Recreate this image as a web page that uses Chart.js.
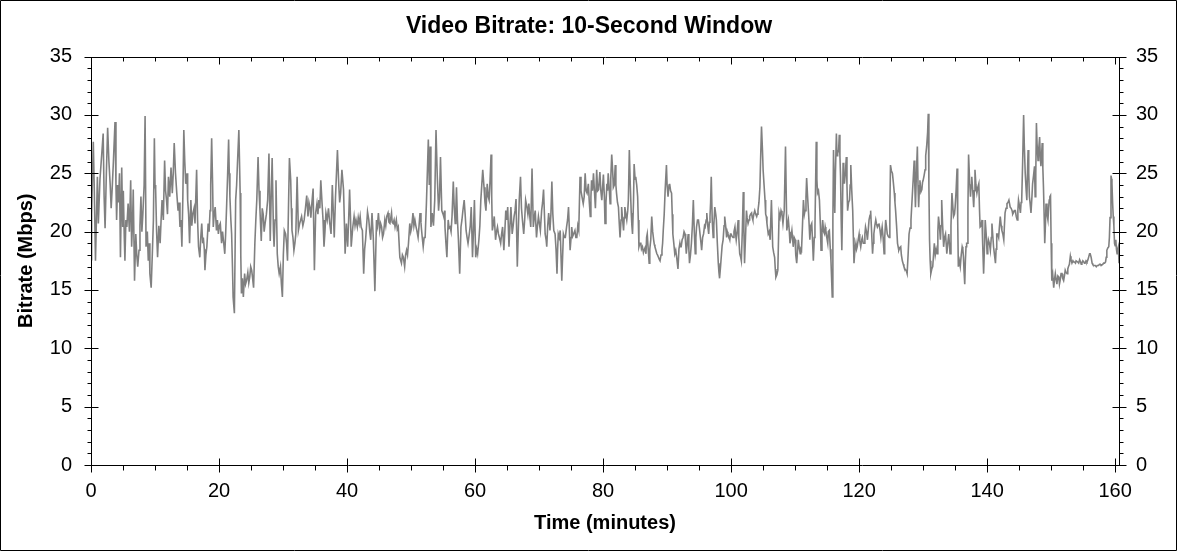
<!DOCTYPE html>
<html>
<head>
<meta charset="utf-8">
<title>Video Bitrate: 10-Second Window</title>
<script src="https://cdn.jsdelivr.net/npm/chart.js@4/dist/chart.umd.min.js"></script>
<style>
  html, body { margin: 0; padding: 0; background: #fff; }
  canvas { display: block; }
</style>
</head>
<body>
<canvas id="bitrateChart" width="1178" height="552"></canvas>
<script>
// values
const chartTitle = "Video Bitrate: 10-Second Window";
const xAxisLabel = "Time (minutes)";
const yAxisLabel = "Bitrate (Mbps)";
const xTicks = [0, 20, 40, 60, 80, 100, 120, 140, 160];
const yTicks = [0, 5, 10, 15, 20, 25, 30, 35];

// [minute, Mbps]
const trace = [
  [0.0,17.6],[0.1,21.5],[0.36,27.7],[0.5,24],[0.7,17.5],[1.0,24.7],[1.15,20.7],[1.4,24.5],[1.7,26.8],[1.9,28.4],
  [2.05,23],[2.2,20.3],[2.4,25],[2.6,28.9],[2.8,26],[3.0,24],[3.15,22],[3.3,23.6],[3.5,26],[3.75,29.4],
  [3.9,24],[4.0,21.0],[4.15,24],[4.3,22.5],[4.45,25],[4.6,17.8],[4.8,25.5],[4.95,20.4],[5.05,23.5],[5.2,19.5],
  [5.3,17.5],[5.45,21],[5.6,20.4],[5.8,22.4],[6.0,20],[6.2,24.4],[6.35,18.7],[6.5,21],[6.6,23.6],[6.8,15.8],
  [7.0,19.8],[7.15,18],[7.3,17.0],[7.5,18.4],[7.65,20.5],[7.8,23.0],[7.95,20],[8.1,21.5],[8.3,24],[8.45,29.9],
  [8.6,18.7],[8.8,20],[8.95,17.5],[9.1,19],[9.2,16.4],[9.4,15.2],[9.6,18.4],[9.75,21],[9.9,28.0],[10.0,24],
  [10.1,23.6],[10.25,20],[10.4,17.8],[10.6,20.5],[10.8,19.0],[10.95,21],[11.1,22.7],[11.3,21],[11.5,26.1],[11.65,23.5],
  [11.8,22.7],[11.95,21.5],[12.1,24.7],[12.3,23],[12.5,25.5],[12.7,23.3],[12.85,25],[13.0,27.6],[13.2,25.0],[13.4,23.3],
  [13.6,21.8],[13.75,22.5],[13.9,20.4],[14.05,21],[14.2,18.7],[14.35,23],[14.5,28.7],[14.65,26],[14.8,24.1],[15.0,25],
  [15.1,22.7],[15.25,21.5],[15.4,19.0],[15.6,22.7],[15.75,20.5],[15.9,21.5],[16.1,22],[16.25,20.7],[16.5,25.3],[16.65,21],
  [16.8,18.7],[17.0,17.8],[17.15,19.5],[17.3,20.7],[17.45,19],[17.55,19.5],[17.7,18.5],[17.8,16.7],[17.95,18],[18.1,18.7],
  [18.3,20.7],[18.45,20],[18.6,21.8],[18.7,24],[18.85,28.0],[19.0,24],[19.1,20.4],[19.25,21.5],[19.4,22.1],[19.6,20.1],
  [19.75,21],[19.9,19.8],[20.05,20.5],[20.2,20.7],[20.4,19.0],[20.55,20],[20.7,19.2],[20.9,18.1],[21.05,20],[21.2,22.4],
  [21.35,25],[21.5,27.9],[21.6,25],[21.7,23.0],[21.85,21],[21.97,19.8],[22.1,17],[22.2,14.4],[22.4,13.0],[22.6,22.7],
  [22.75,24],[22.9,26.1],[23.1,28.7],[23.2,26],[23.3,23.3],[23.4,18],[23.5,14.7],[23.65,16],[23.8,14.4],[24.0,16.4],
  [24.15,15.5],[24.3,15.8],[24.5,16.5],[24.65,15.6],[24.8,16.1],[24.95,17],[25.1,16.7],[25.25,16],[25.4,15.2],[25.6,19.0],
  [25.75,21],[25.9,22.7],[26.1,26.4],[26.25,23.5],[26.4,21.8],[26.6,19.2],[26.75,22],[26.9,21.5],[27.05,20],[27.2,20.7],
  [27.4,21.5],[27.6,22.7],[27.8,26.7],[28.0,19.2],[28.15,23],[28.3,26.3],[28.5,20.1],[28.6,18.7],[28.75,21],[28.9,24.4],
  [29.1,18.1],[29.25,17],[29.4,16.4],[29.6,17.0],[29.75,15.5],[29.9,14.4],[30.05,18],[30.2,20.1],[30.4,19.8],[30.55,19],
  [30.7,17.5],[30.85,22],[31.0,26.3],[31.2,24.4],[31.3,22],[31.4,20.1],[31.55,19.5],[31.7,18.4],[31.85,19],[32.0,19.8],
  [32.2,24.7],[32.4,20.1],[32.6,20.7],[32.75,21],[32.9,21.3],[33.1,20.5],[33.3,21.0],[33.5,22],[33.7,23.1],[33.9,21.3],
  [34.05,22.5],[34.2,22.1],[34.35,21.2],[34.5,22.4],[34.7,23.7],[34.9,16.7],[35.1,21.6],[35.3,22.4],[35.45,21.5],[35.6,22.7],
  [35.75,22],[35.9,24.4],[36.1,22.4],[36.25,21],[36.4,18.7],[36.55,20],[36.7,21.6],[36.9,21.0],[37.1,22],[37.3,20.7],
  [37.5,19.8],[37.7,24.0],[38.0,19.5],[38.2,23.0],[38.35,25],[38.5,27.0],[38.7,24.1],[38.85,22.5],[39.0,23.3],[39.2,25.3],
  [39.45,23.6],[39.6,20.5],[39.7,18.1],[39.9,20.7],[40.1,18.7],[40.25,21],[40.4,23.6],[40.55,21],[40.65,18.7],[40.9,20.4],
  [41.1,21.3],[41.25,20.5],[41.4,21.0],[41.6,20.4],[41.75,21.2],[41.9,20.7],[42.05,21.3],[42.2,20.4],[42.4,20.1],[42.6,16.4],
  [42.75,18.5],[42.9,19.3],[43.05,20.5],[43.2,21.7],[43.4,21.0],[43.55,20],[43.7,19.3],[43.9,21.6],[44.1,19.5],[44.35,14.9],
  [44.6,21.0],[44.75,20.5],[44.9,21.6],[45.1,20.1],[45.25,20.7],[45.4,20.4],[45.55,19.5],[45.7,19.8],[45.9,21.0],[46.05,20.5],
  [46.2,21.3],[46.4,21.6],[46.55,20.8],[46.7,20.7],[46.95,21.6],[47.05,20.8],[47.2,20.7],[47.35,21],[47.5,20.4],[47.7,21.0],
  [47.85,20.2],[48.0,20.4],[48.25,17.8],[48.5,17.3],[48.65,18],[48.8,17.8],[49.0,17.0],[49.15,18],[49.3,18.4],[49.45,18],
  [49.6,19.0],[49.8,20.7],[49.95,20],[50.1,20.4],[50.3,21.6],[50.45,20.5],[50.6,21.0],[50.75,20.5],[50.9,20.1],[51.1,19.5],
  [51.25,20.5],[51.4,21.6],[51.55,20.8],[51.6,20.4],[51.75,19.5],[51.9,18.7],[52.05,19.5],[52.2,19.5],[52.4,22.4],[52.7,27.9],
  [52.85,24],[53.0,27.3],[53.1,20.4],[53.3,21.6],[53.5,20.5],[53.7,22.7],[53.9,28.7],[54.1,24.7],[54.3,21.8],[54.45,23],
  [54.6,26.4],[54.8,21.8],[55.0,21.5],[55.1,21.3],[55.25,21.8],[55.3,20.4],[55.45,19],[55.6,17.8],[55.7,19.5],[55.8,21.0],
  [55.95,20.3],[56.1,20.4],[56.25,20],[56.4,21.3],[56.6,24.3],[56.75,22],[56.9,20.7],[57.0,22],[57.1,23.8],[57.25,21],
  [57.4,19.3],[57.6,16.4],[57.8,20.4],[57.95,21],[58.1,21.8],[58.3,22.7],[58.45,21.5],[58.6,20.1],[58.75,19.5],[58.9,19.0],
  [59.1,19.8],[59.25,20.5],[59.4,22.1],[59.6,17.8],[59.75,20],[59.9,22.7],[60.1,17.8],[60.25,18.5],[60.4,18.1],[60.6,19.3],
  [60.75,20.5],[60.9,22.7],[61.05,24],[61.2,25.3],[61.4,23.8],[61.55,22.5],[61.7,21.8],[61.9,24.1],[62.05,23],[62.2,22.7],
  [62.35,24.5],[62.5,26.6],[62.6,23],[62.7,20.1],[62.85,20.6],[63.0,21.3],[63.2,19.3],[63.35,20],[63.5,20.4],[63.65,19.8],
  [63.8,19.5],[64.0,19.0],[64.15,19.8],[64.3,20.4],[64.5,18.4],[64.65,20],[64.8,21.8],[64.95,21],[65.1,22.1],[65.3,18.7],
  [65.45,20.5],[65.6,22.1],[65.8,19.8],[65.95,20.5],[66.1,21.3],[66.25,21.8],[66.4,22.8],[66.6,17.0],[66.75,20],[66.9,22.7],
  [67.1,24.7],[67.25,22],[67.4,21.0],[67.6,19.8],[67.75,21],[67.9,22.7],[68.1,22.1],[68.25,21.5],[68.4,22.4],[68.55,21.3],
  [68.7,20.4],[68.9,25.4],[69.1,20.4],[69.25,21.2],[69.4,21.8],[69.6,19.5],[69.75,20.5],[69.9,21.3],[70.05,20.7],[70.2,20.1],
  [70.4,21.8],[70.55,22.5],[70.7,23.6],[70.95,19.8],[71.1,19.3],[71.2,18.7],[71.35,20.5],[71.5,21.6],[71.7,20.1],[71.85,21.5],
  [72.0,24.3],[72.15,21.5],[72.3,20.1],[72.5,19.8],[72.65,18.5],[72.8,16.4],[72.9,18.5],[73.0,19.8],[73.15,19.5],[73.3,20.1],
  [73.55,15.8],[73.8,19.8],[73.95,19.5],[74.1,19.5],[74.3,20.4],[74.45,21],[74.6,22.1],[74.85,18.4],[75.0,19.5],[75.1,20.4],
  [75.25,19.6],[75.4,19.8],[75.6,20.1],[75.75,19.5],[75.9,19.5],[76.05,20.5],[76.2,20.1],[76.4,24.7],[76.55,23.5],[76.7,23.0],
  [76.9,22.4],[77.05,23],[77.2,25.0],[77.35,23.5],[77.5,23.3],[77.7,24.1],[77.85,22.5],[78.0,21.3],[78.1,23],[78.2,24.4],
  [78.35,23.5],[78.5,25.0],[78.65,23.5],[78.8,22.0],[79.0,25.3],[79.15,23.5],[79.3,23.6],[79.5,25.1],[79.65,23.5],[79.8,22.7],
  [79.95,24],[80.05,24.9],[80.2,23],[80.3,20.7],[80.45,22.5],[80.6,24.1],[80.7,23.5],[80.8,25.0],[80.95,23.8],[81.1,22.4],
  [81.2,24.5],[81.35,26.6],[81.5,25.2],[81.6,23.8],[81.75,24],[81.9,25.7],[82.0,24],[82.1,23.3],[82.25,22.5],[82.4,22.1],
  [82.5,21],[82.65,19.5],[82.8,21],[82.9,22.1],[83.05,21],[83.2,20.1],[83.3,21.2],[83.4,22.1],[83.55,21.5],[83.7,21.0],
  [83.85,21.8],[83.95,22.7],[84.1,27.0],[84.25,24],[84.4,21.6],[84.5,20.5],[84.6,19.8],[84.75,22.5],[84.85,25.8],[85.0,24.5],
  [85.1,24.7],[85.25,24],[85.4,23.0],[85.5,21],[85.6,18.7],[85.75,19],[85.9,19.0],[86.0,18.5],[86.15,18.7],[86.3,18.2],
  [86.4,18.4],[86.55,18.6],[86.7,18.1],[86.8,19.5],[86.9,19.8],[87.05,18.5],[87.2,17.3],[87.3,18.5],[87.45,19.3],[87.6,21.3],
  [87.75,20],[87.9,19.3],[88.0,18.9],[88.1,18.7],[88.25,18.4],[88.4,18.1],[88.5,18],[88.65,17.8],[88.8,17.6],[88.9,17.5],
  [89.05,18],[89.2,18.4],[89.3,19],[89.4,20.1],[89.55,21.5],[89.7,23.6],[89.9,25.7],[90.0,24],[90.15,23.0],[90.3,24],
  [90.4,24.1],[90.55,23.5],[90.7,23.3],[90.8,21.5],[90.9,19.8],[91.05,19],[91.2,18.1],[91.35,18.4],[91.5,17.8],[91.6,17.3],
  [91.7,16.8],[91.85,18.5],[92.0,19.0],[92.1,18.7],[92.2,18.7],[92.35,19.3],[92.5,19.5],[92.65,20],[92.8,19.8],[92.9,19],
  [93.0,18.1],[93.15,19],[93.3,19.8],[93.4,18.5],[93.5,17.3],[93.65,18],[93.8,19.0],[93.95,20.5],[94.1,22.7],[94.25,20],
  [94.4,18.1],[94.5,19.5],[94.6,20.4],[94.75,21],[94.9,21.0],[95.05,20.3],[95.2,19.5],[95.3,19],[95.4,18.4],[95.55,19.5],
  [95.7,19.8],[95.85,20.5],[95.95,20.4],[96.1,21],[96.2,21.6],[96.35,20.5],[96.5,19.8],[96.6,20.8],[96.7,21.3],[96.8,22.5],
  [96.9,24.7],[97.05,21],[97.2,19.5],[97.3,20.5],[97.45,22.1],[97.6,21.5],[97.7,21.0],[97.85,19],[98.0,17.3],[98.1,16.5],
  [98.2,16.0],[98.35,17],[98.5,18.1],[98.6,18.8],[98.75,19.3],[98.9,20.5],[99.0,21.3],[99.15,20.5],[99.3,19.5],[99.4,20],
  [99.5,19.8],[99.65,19.6],[99.8,19.3],[99.9,19.8],[100.0,19.8],[100.15,19.6],[100.3,19.5],[100.45,20],[100.6,20.4],[100.7,19.8],
  [100.8,19.3],[100.95,20],[101.1,21.0],[101.2,19.5],[101.35,18.1],[101.5,17.8],[101.6,17.5],[101.75,20],[101.9,23.4],[102.0,20],
  [102.1,17.3],[102.25,19.5],[102.4,21.8],[102.5,21.2],[102.65,20.7],[102.8,21],[102.9,21.3],[103.05,21.5],[103.2,21.6],[103.3,21.2],
  [103.4,21.0],[103.55,21.5],[103.7,21.8],[103.85,21.5],[104.0,21.3],[104.1,21.5],[104.2,21.8],[104.35,22.5],[104.5,23.8],[104.6,26],
  [104.75,29.0],[104.9,27],[105.0,25.3],[105.15,24],[105.3,22.7],[105.4,21.5],[105.5,21.3],[105.6,20.7],[105.8,19.8],[105.95,20],
  [106.1,19.3],[106.3,22.7],[106.5,18.7],[106.65,18.2],[106.8,17.8],[106.9,16.8],[107.0,16.1],[107.15,16.3],[107.3,16.7],[107.5,21.6],
  [107.65,21.2],[107.8,21.8],[107.95,21.5],[108.1,20.7],[108.3,21.8],[108.5,27.3],[108.7,20.1],[108.8,20.5],[108.95,21.0],[109.1,20],
  [109.2,19.0],[109.35,19.5],[109.5,20.1],[109.6,19.5],[109.7,18.7],[109.85,19.5],[110.0,19.3],[110.1,18],[110.25,17.3],[110.4,18.5],
  [110.5,19.3],[110.65,18.6],[110.8,18.1],[110.9,18.5],[111.0,18.4],[111.15,20.5],[111.3,22.7],[111.45,21.5],[111.55,21.8],[111.7,23],
  [111.8,24.6],[111.95,23],[112.1,21.6],[112.2,20.5],[112.3,19.3],[112.45,20.5],[112.6,20.7],[112.7,19.5],[112.85,17.5],[113.0,19.5],
  [113.1,20.4],[113.3,27.7],[113.4,24.5],[113.5,23.3],[113.65,23.5],[113.8,22.7],[113.95,20.5],[114.05,18.4],[114.2,20],[114.3,21.0],
  [114.45,20],[114.6,19.8],[114.7,20.4],[114.8,20.1],[114.95,19.5],[115.1,19.0],[115.2,20],[115.35,20.1],[115.5,18.5],[115.6,17.5],
  [115.7,16],[115.8,14.4],[115.9,21],[116.0,27.0],[116.1,24],[116.2,21.6],[116.3,25],[116.45,28.4],[116.55,26.5],[116.65,26.7],
  [116.8,27],[116.9,28.3],[117.0,26.5],[117.1,24.7],[117.2,21],[117.3,18.4],[117.4,22],[117.5,25.9],[117.6,25],[117.7,24.1],
  [117.85,25],[118.0,26.4],[118.1,24],[118.2,21.8],[118.35,22.5],[118.5,22.7],[118.6,24],[118.7,25.7],[118.85,23.5],[119.0,21.8],
  [119.1,19.5],[119.2,17.3],[119.35,18.5],[119.5,19.0],[119.6,18.5],[119.7,18.7],[119.85,19.3],[120.0,19.8],[120.1,19.2],[120.25,18.7],
  [120.4,19.3],[120.5,19.5],[120.65,19],[120.8,19.0],[120.9,19.8],[121.0,20.4],[121.15,20],[121.3,19.3],[121.45,20.3],[121.55,21.0],
  [121.7,21.4],[121.8,21.8],[121.95,20],[122.1,18.1],[122.2,19],[122.3,19.8],[122.45,20.5],[122.6,21.0],[122.7,20.7],[122.85,20.4],
  [123.0,20.6],[123.1,20.7],[123.25,20.2],[123.4,19.5],[123.5,20],[123.6,20.4],[123.75,19.5],[123.9,18.1],[124.0,19.5],[124.15,21.0],
  [124.3,20.3],[124.4,19.8],[124.55,19.6],[124.7,19.5],[124.8,22],[124.9,25.7],[125.05,25.2],[125.2,25.0],[125.35,24.2],[125.5,23.3],
  [125.6,22.5],[125.7,21.8],[125.85,20.5],[126.0,19.0],[126.1,18.7],[126.2,18.4],[126.35,18.6],[126.5,18.7],[126.6,18.0],[126.75,17.5],
  [126.9,17.2],[127.0,17.0],[127.15,16.8],[127.3,16.7],[127.4,16.6],[127.5,16.4],[127.65,18],[127.8,19.8],[127.95,20.3],[128.1,21.0],
  [128.2,22],[128.3,23.0],[128.45,24.5],[128.6,26.1],[128.7,24],[128.8,22.1],[128.95,25],[129.1,27.3],[129.2,24],[129.3,22.1],
  [129.4,23.5],[129.5,24.4],[129.65,23.4],[129.8,23.6],[129.9,24.2],[130.0,24.4],[130.15,24.8],[130.3,25.3],[130.4,26.5],[130.55,27.3],
  [130.7,28.5],[130.8,30.1],[130.9,24],[131.0,19.3],[131.1,17.5],[131.2,16.4],[131.35,16.8],[131.5,17.0],[131.6,17.8],[131.75,19.0],
  [131.9,18.0],[132.05,18.5],[132.2,18.1],[132.3,20],[132.4,21.3],[132.55,20.5],[132.7,19.3],[132.8,20.5],[132.9,22.7],[133.05,20.5],
  [133.2,18.7],[133.35,19.5],[133.5,19.8],[133.6,19],[133.7,18.1],[133.85,19],[134.0,19.8],[134.1,19],[134.2,18.1],[134.35,20.5],
  [134.5,23.3],[134.6,22.5],[134.75,21.3],[134.9,21.5],[135.0,22.1],[135.15,23.5],[135.3,25.4],[135.4,21],[135.5,17.0],[135.65,17.5],
  [135.8,17.0],[135.95,18],[136.1,18.7],[136.2,18.5],[136.3,17.8],[136.4,16.5],[136.5,15.5],[136.6,17.5],[136.7,18.7],[136.8,19],
  [136.9,19.0],[137.0,22],[137.1,26.6],[137.25,24.5],[137.4,23.0],[137.5,24],[137.6,24.7],[137.75,23.5],[137.9,22.1],[138.0,23.5],
  [138.1,25.3],[138.25,24],[138.4,23.3],[138.55,23.8],[138.7,24.1],[138.8,22],[138.9,20.4],[139.05,20.5],[139.2,21.0],[139.3,19],
  [139.45,16.4],[139.6,19],[139.7,21.0],[139.85,19.8],[140.0,18.1],[140.1,18.8],[140.2,19.3],[140.35,19],[140.5,18.4],[140.65,19.5],
  [140.75,20.7],[140.9,19.5],[141.0,18.7],[141.15,18],[141.3,17.3],[141.4,18.5],[141.5,19.8],[141.65,19.8],[141.8,19.5],[141.9,20.3],
  [142.05,21.3],[142.2,20.5],[142.3,20.1],[142.45,19.8],[142.6,19.3],[142.7,20.5],[142.8,21.6],[142.95,22],[143.1,22.4],[143.25,22.5],
  [143.4,22.7],[143.5,22.4],[143.6,22.1],[143.75,22],[143.9,21.8],[144.0,21.5],[144.1,21.6],[144.25,21.8],[144.4,21.8],[144.55,21.3],
  [144.7,21.0],[144.8,21.8],[144.9,22.7],[145.05,22.2],[145.2,21.6],[145.3,22.5],[145.4,22.7],[145.55,26],[145.7,30.0],[145.8,27.5],
  [145.95,25.0],[146.1,23.5],[146.2,22.7],[146.3,25],[146.4,27.0],[146.5,25],[146.6,23.0],[146.7,22.5],[146.85,21.6],[147.0,23],
  [147.1,24.1],[147.25,24.8],[147.4,25.6],[147.5,23.0],[147.6,25],[147.7,29.3],[147.8,27.5],[147.95,26.1],[148.05,27],[148.2,28.1],
  [148.3,26.5],[148.4,25.6],[148.5,26.5],[148.6,27.6],[148.7,25.5],[148.8,23.8],[148.9,21.5],[149.0,19.0],[149.1,20.5],[149.2,22.4],
  [149.35,21.5],[149.5,21.0],[149.6,22],[149.7,22.7],[149.8,23],[149.9,23.1],[150.0,19],[150.1,15.8],[150.25,16.3],[150.4,15.2],
  [150.5,15.8],[150.65,16.4],[150.8,15.8],[150.9,15.5],[151.05,16.2],[151.2,16.1],[151.3,15.5],[151.4,15.8],[151.55,16.4],[151.7,16.4],
  [151.8,16.0],[151.95,15.8],[152.1,16.3],[152.2,16.7],[152.35,16.5],[152.5,16.4],[152.6,16.8],[152.7,17.0],[152.85,17.2],[153.0,17.9],
  [153.1,17.6],[153.25,17.3],[153.4,17.5],[153.5,17.4],[153.65,17.4],[153.8,17.3],[153.9,17.5],[154.0,17.5],[154.15,17.4],[154.3,17.3],
  [154.45,17.6],[154.6,17.4],[154.7,17.2],[154.8,17.3],[154.95,17.5],[155.1,17.4],[155.2,17.3],[155.3,17.3],[155.45,17.5],[155.6,17.4],
  [155.75,17.6],[155.9,17.9],[156.0,18.1],[156.1,18.1],[156.25,17.8],[156.4,17.3],[156.5,17.2],[156.6,17.1],[156.75,17.1],[156.9,17.1],
  [157.05,17.0],[157.2,17.1],[157.3,17.1],[157.4,17.1],[157.55,17.2],[157.7,17.2],[157.8,17.1],[157.9,17.1],[158.05,17.2],[158.2,17.3],
  [158.35,17.3],[158.5,17.4],[158.6,17.8],[158.7,18.4],[158.85,18.6],[159.0,18.7],[159.1,19.5],[159.2,21.2],[159.35,24.8],[159.45,24.5],
  [159.5,24.1],[159.6,22.5],[159.7,21.3],[159.8,20.5],[159.9,19.0],[160.0,18.8],[160.1,19.3],[160.2,18.5],[160.3,18.1],[160.4,18.5],
  [160.5,18.7],[160.6,17.3]
];

const FONT = "Arial, 'Liberation Sans', sans-serif";

// frame, axis lines and the major/minor tick marks
const axesFrame = {
  id: "axesFrame",
  afterDraw(chart) {
    const { ctx, chartArea: a, scales } = chart;
    const xs = scales.x, ys = scales.y;
    const L = Math.round(a.left) + 0.5, R = Math.round(a.right) + 0.5;
    const T = Math.round(a.top) + 0.5, B = Math.round(a.bottom) + 0.5;
    ctx.save();
    ctx.strokeStyle = "#000";
    ctx.lineWidth = 1;
    ctx.beginPath();
    ctx.rect(0.5, 0.5, 1176, 550);
    ctx.moveTo(L, T); ctx.lineTo(R, T);
    ctx.moveTo(L, B); ctx.lineTo(R, B);
    ctx.moveTo(L, T); ctx.lineTo(L, B);
    ctx.moveTo(R, T); ctx.lineTo(R, B);
    for (let m = 0; m <= 160; m += 5) {
      const px = Math.round(xs.getPixelForValue(m)) + 0.5;
      const major = m % 20 === 0;
      ctx.moveTo(px, major ? B - 7 : B); ctx.lineTo(px, major ? B + 7 : B + 5);
      ctx.moveTo(px, T); ctx.lineTo(px, T + (major ? 7 : 4));
    }
    for (let v = 0; v <= 35; v += 1) {
      const py = Math.round(ys.getPixelForValue(v)) + 0.5;
      const major = v % 5 === 0;
      ctx.moveTo(major ? L - 7 : L - 4, py); ctx.lineTo(major ? L + 7 : L, py);
      ctx.moveTo(major ? R - 7 : R, py); ctx.lineTo(major ? R + 7 : R + 4, py);
    }
    ctx.stroke();
    ctx.restore();
  }
};

new Chart(document.getElementById("bitrateChart"), {
  type: "line",
  data: {
    datasets: [{
      data: trace.map(([m, v]) => ({ x: m, y: v })),
      borderColor: "#808080",
      borderWidth: 1.6,
      pointRadius: 0,
      tension: 0,
      fill: false
    }]
  },
  options: {
    responsive: false,
    animation: false,
    devicePixelRatio: 1,
    layout: { padding: 0 },
    plugins: {
      legend: { display: false },
      tooltip: { enabled: false },
      title: {
        display: true,
        text: chartTitle,
        color: "#000",
        font: { family: FONT, size: 23, weight: "bold" },
        padding: { top: 13, bottom: 16 }
      }
    },
    scales: {
      x: {
        type: "linear",
        min: 0,
        max: 160.6,
        afterBuildTicks: s => { s.ticks = xTicks.map(v => ({ value: v })); },
        afterFit: s => { s.height = 87; },
        grid: { display: false, drawTicks: false },
        border: { display: false },
        ticks: { color: "#000", font: { family: FONT, size: 20 }, padding: 14, maxRotation: 0, autoSkip: false },
        title: { display: true, text: xAxisLabel, color: "#000", font: { family: FONT, size: 20, weight: "bold" }, padding: { top: 0, bottom: 17 } }
      },
      y: {
        position: "left",
        min: 0,
        max: 35,
        afterBuildTicks: s => { s.ticks = yTicks.map(v => ({ value: v })); },
        afterFit: s => { s.width = 91; },
        grid: { display: false, drawTicks: false },
        border: { display: false },
        ticks: { color: "#000", font: { family: FONT, size: 20 }, padding: 19 },
        title: { display: true, text: yAxisLabel, color: "#000", font: { family: FONT, size: 20, weight: "bold" }, padding: { top: 14, bottom: 0 } }
      },
      y2: {
        position: "right",
        min: 0,
        max: 35,
        afterBuildTicks: s => { s.ticks = yTicks.map(v => ({ value: v })); },
        afterFit: s => { s.width = 59; },
        grid: { display: false, drawTicks: false },
        border: { display: false },
        ticks: { color: "#000", font: { family: FONT, size: 20 }, padding: 17 }
      }
    }
  },
  plugins: [axesFrame]
});
</script>
</body>
</html>
